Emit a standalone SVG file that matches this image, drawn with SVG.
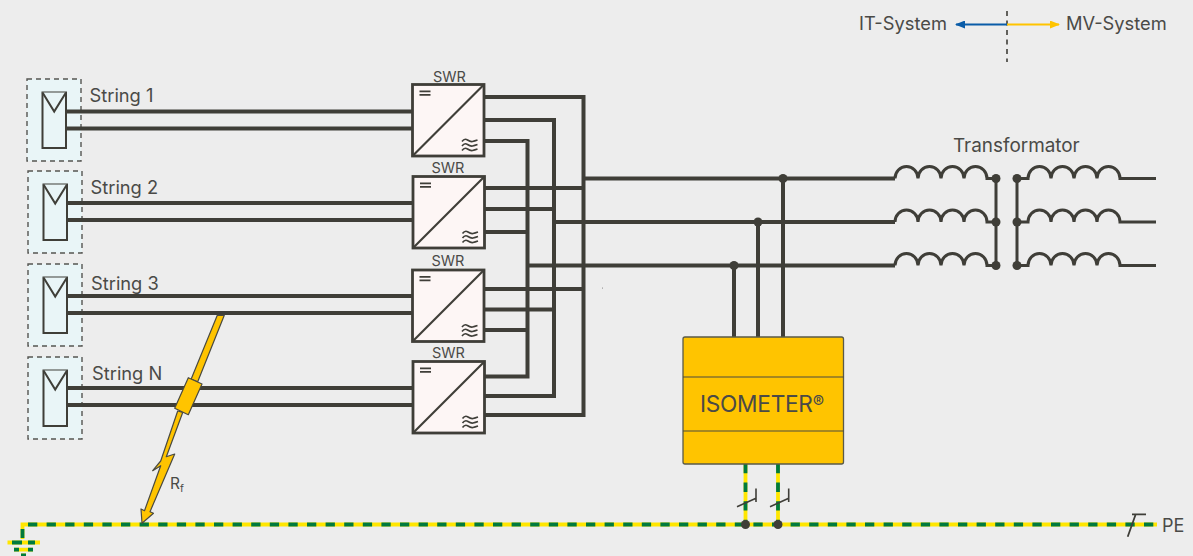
<svg xmlns="http://www.w3.org/2000/svg" width="1193" height="556" viewBox="0 0 1193 556">
<style>
text{font-family:Inter,"Liberation Sans",sans-serif;fill:#4a4a47}
.w{fill:none;stroke:#3f3e38;stroke-width:4}
.t{fill:none;stroke:#3f3e38;stroke-width:3}
.d{fill:#3f3e38}
.y{fill:none;stroke:#ffe600;stroke-width:3.8}
.g{fill:none;stroke:#007a3d;stroke-width:3.8;stroke-dasharray:9.3 9.3}
.s{font-size:18.300px}
.q{font-size:14.500px}
.pvb{fill:#e9f5f7;stroke:#555552;stroke-width:1.400;stroke-dasharray:5 4}
.pv{fill:#e9f5f7;stroke:#3f3e38;stroke-width:2}
.sw{fill:#fdf6f5;stroke:#3f3e38;stroke-width:2.800}
.thin{fill:none;stroke:#3f3e38;stroke-width:1.600}
.b{fill:#ffc400;stroke:#4a4a40;stroke-width:1.200;stroke-linejoin:round}
</style>
<defs>
<g id="pvsym">
<rect class="pvb" x="0" y="0" width="54" height="82"/>
<rect class="pv" x="15.500" y="13.500" width="23.500" height="55.500"/>
<path class="pv" d="M15.500 13.500L27.200 32.500L39 13.500"/>
</g>
<g id="swrsym">
<rect class="sw" x="0" y="0" width="71.500" height="71.500"/>
<path class="t" d="M0 71.500L71.500 0" style="stroke-width:2.200"/>
<path d="M7 6.800H18M7 10.300H18" class="t" style="stroke-width:1.800"/>
<path class="thin" d="M49.500 57q2.500-3.500 5.500-1.500t5 1.500 5-1.500M49.500 61.500q2.500-3.500 5.500-1.500t5 1.500 5-1.500M49.500 66q2.500-3.500 5.500-1.500t5 1.500 5-1.500"/>
</g>
<marker id="ab" markerWidth="10" markerHeight="8" refX="9" refY="4" orient="auto" markerUnits="userSpaceOnUse"><path d="M0 0L10 4L0 8z" fill="#0a5ca8"/></marker>
<marker id="ay" markerWidth="10" markerHeight="8" refX="9" refY="4" orient="auto" markerUnits="userSpaceOnUse"><path d="M0 0L10 4L0 8z" fill="#ffc400"/></marker>
</defs>
<rect width="1193" height="556" fill="#ededed"/>
<g id="string1"><use href="#pvsym" x="27" y="79"/><text class="s" x="89.500" y="102">String 1</text></g>
<g id="string2"><use href="#pvsym" x="28" y="171"/><text class="s" x="90.500" y="194">String 2</text></g>
<g id="string3"><use href="#pvsym" x="28" y="264"/><text class="s" x="91" y="289.500">String 3</text></g>
<g id="stringN"><use href="#pvsym" x="28" y="357"/><text class="s" x="92" y="380">String N</text></g>
<g id="connectors">
<path class="w" d="M66 111.500H412M66 128.500H412M67 203H413M67 220H413M67 296H412M67 313H412M67 388H413M67 405H413"/>
<path class="w" d="M484 97H583.500V415H485M484 120H554V396H485M484 141H527.500V376.500H485"/>
<path class="w" d="M484 188H583.500M484 209H554M484 232H527.500M484 289H583.500M484 309.500H554M484 330H527.500"/>
<path class="w" d="M583.500 178.500H895M554 222H895M527.500 265.500H895"/>
<path class="w" d="M783 178.500V337M758 222V337M734 265.500V337"/>
<circle class="d" cx="783" cy="178.500" r="4.500"/><circle class="d" cx="758" cy="222" r="4.500"/><circle class="d" cx="734" cy="265.500" r="4.500"/>
<path class="y" d="M22.500 539V524.500H1157"/>
<path class="g" d="M28 524.500H1157"/>
<path class="g" d="M22.500 529V538" style="stroke-dasharray:none"/>
<path class="y" d="M7.500 542.500H40M14 549.700H33M21 555.500H26"/>
<path class="g" d="M12 542.500H22M28 542.500H35M14 549.700H19M28 549.700H33M21 555.500H26" style="stroke-dasharray:none"/>
<path class="y" d="M745.500 464V524.500M778 464V524.500"/>
<path class="g" d="M745.500 464V524.500M778 464V524.500"/>
<circle class="d" cx="745.500" cy="524.500" r="4.500"/><circle class="d" cx="778" cy="524.500" r="4.500"/>
<path class="thin" d="M737 506.700L756 498.300M756 488.500V502M770 506.700L788.700 498.300M788.700 488.500V502"/>
<path class="thin" style="stroke-width:1.800" d="M1127.700 536.700L1135.700 514.300M1132 514.300H1146"/>
<path d="M1007 11V62" fill="none" stroke="#3f3e38" stroke-width="1.600" stroke-dasharray="5 4.500"/>
<path d="M1007 24.500H956" fill="none" stroke="#0a5ca8" stroke-width="2" marker-end="url(#ab)"/>
<path d="M1007 24.500H1059" fill="none" stroke="#ffc400" stroke-width="2" marker-end="url(#ay)"/>
</g>
<g id="swr1"><use href="#swrsym" x="412.500" y="84.500"/><text class="q" x="433" y="81.500">SWR</text></g>
<g id="swr2"><use href="#swrsym" x="413" y="176.500"/><text class="q" x="431.500" y="172.500">SWR</text></g>
<g id="swr3"><use href="#swrsym" x="412.500" y="270"/><text class="q" x="431.500" y="265.500">SWR</text></g>
<g id="swr4"><use href="#swrsym" x="413" y="361.500"/><text class="q" x="432" y="357.500">SWR</text></g>
<g id="transformer">
<path class="t" d="M895 178.500a11.500 12 0 0 1 23 0a11.500 12 0 0 1 23 0a11.500 12 0 0 1 23 0a11.500 12 0 0 1 23 0H996"/>
<path class="t" d="M895 222a11.500 12 0 0 1 23 0a11.500 12 0 0 1 23 0a11.500 12 0 0 1 23 0a11.500 12 0 0 1 23 0H996"/>
<path class="t" d="M895 265.500a11.500 12 0 0 1 23 0a11.500 12 0 0 1 23 0a11.500 12 0 0 1 23 0a11.500 12 0 0 1 23 0H996"/>
<path class="t" d="M1017 178.500H1028a11.500 12 0 0 1 23 0a11.500 12 0 0 1 23 0a11.500 12 0 0 1 23 0a11.500 12 0 0 1 23 0H1156"/>
<path class="t" d="M1017 222H1028a11.500 12 0 0 1 23 0a11.500 12 0 0 1 23 0a11.500 12 0 0 1 23 0a11.500 12 0 0 1 23 0H1156"/>
<path class="t" d="M1017 265.500H1028a11.500 12 0 0 1 23 0a11.500 12 0 0 1 23 0a11.500 12 0 0 1 23 0a11.500 12 0 0 1 23 0H1156"/>
<path class="t" d="M996 178.500V265.500M1017 178.500V265.500"/>
<g class="d"><circle cx="996" cy="178.500" r="4.500"/><circle cx="996" cy="222" r="4.500"/><circle cx="996" cy="265.500" r="4.500"/><circle cx="1017" cy="178.500" r="4.500"/><circle cx="1017" cy="222" r="4.500"/><circle cx="1017" cy="265.500" r="4.500"/></g>
<text x="953" y="151.500" font-size="18.900">Transformator</text>
</g>
<g id="isometer">
<rect x="683" y="337" width="160.500" height="127" rx="2" fill="#ffc400" stroke="#5a5a48" stroke-width="1.300"/>
<path d="M683 377H843.500M683 431H843.500" stroke="#4a4a40" stroke-width="1.200" fill="none"/>
<text x="700" y="412" font-size="22.700" letter-spacing="-.3">ISOMETER<tspan font-size="17" dy="-4">®</tspan></text>
</g>
<g id="fault">
<path class="b" d="M217.300 315.300H224.300L197.700 381.800L191.200 379Z"/>
<path class="b" d="M177.700 411L160.700 461L152.700 470.700L160.700 465.700L144.500 510.700L141 509L142 523.300L153.500 513.300L150 511.700L174.700 454L166.300 456.700L182.800 412.300Z"/>
<path class="b" d="M188.300 377.700L202 384L188.300 414.700L174.700 408.300Z"/>
<text x="170" y="489" font-size="15.500">R<tspan font-size="10.500" dy="3">f</tspan></text>
</g>
<g id="legend">
<text x="859" y="30" font-size="18.300">IT-System</text>
<text x="1066" y="30" font-size="18.300">MV-System</text>
</g>
<text x="1162" y="532" font-size="18">PE</text>
<circle cx="602.500" cy="288" r=".5" fill="#666"/>
</svg>
